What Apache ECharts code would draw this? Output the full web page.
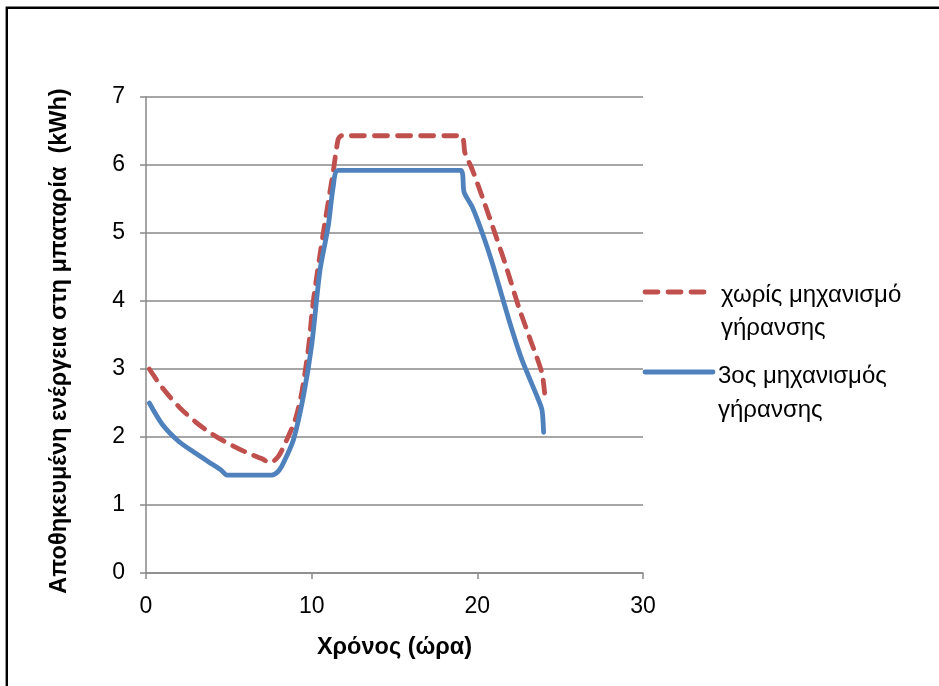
<!DOCTYPE html>
<html>
<head>
<meta charset="utf-8">
<script src="https://cdn.jsdelivr.net/npm/echarts@6/dist/echarts.min.js"></script>
<style>
  html, body { margin: 0; padding: 0; background: #ffffff; }
  #chart { width: 939px; height: 686px; }
</style>
</head>
<body>
<div id="chart"></div>
<script>
// Hours of the day and stored battery energy (kWh) for each strategy
const noAgingHours = [0.2, 1.0, 2.0, 3.0, 4.0, 5.0, 6.0, 7.0, 7.5, 8.0, 8.5, 9.0, 9.4, 9.8, 10.1, 10.7, 11.3, 11.6, 11.8, 19.0, 19.25, 19.7, 20.3, 21.1, 21.8, 22.5, 23.2, 23.9, 24.1];
const noAgingEnergy = [3.0, 2.72, 2.44, 2.22, 2.04, 1.90, 1.78, 1.68, 1.62, 1.72, 1.96, 2.25, 2.65, 3.3, 4.0, 5.0, 5.9, 6.38, 6.43, 6.43, 6.18, 5.93, 5.53, 4.97, 4.46, 3.91, 3.43, 2.94, 2.55];

const agingHours = [0.2, 1.0, 2.0, 3.0, 4.0, 4.5, 4.9, 7.6, 8.0, 8.3, 8.9, 9.5, 10.0, 10.5, 11.0, 11.3, 11.6, 19.0, 19.2, 19.7, 20.3, 20.9, 21.5, 22.1, 22.7, 23.6, 23.9, 24.0];
const agingEnergy = [2.5, 2.18, 1.93, 1.76, 1.6, 1.52, 1.44, 1.44, 1.5, 1.62, 1.96, 2.6, 3.35, 4.45, 5.1, 5.68, 5.92, 5.92, 5.6, 5.38, 5.0, 4.56, 4.06, 3.57, 3.13, 2.6, 2.4, 2.07];

const seriesNames = ['χωρίς μηχανισμό\nγήρανσης', '3ος μηχανισμός\nγήρανσης'];
const seriesColors = ['#C0504D', '#4F81BD'];

const xTicks = { min: 0, max: 30, step: 10 };
const yTicks = { min: 0, max: 7, step: 1 };

const xTitle = 'Χρόνος (ώρα)';
const yTitle = 'Αποθηκευμένη ενέργεια στη μπαταρία  (kWh)';

const FONT = '"Liberation Sans", Arial, sans-serif';

function pairs(xs, ys) {
  return xs.map((x, i) => [x, ys[i]]);
}

const chart = echarts.init(document.getElementById('chart'), null, { renderer: 'canvas' });

const legendX = 645, legendText = 721;
const legendRows = [292, 372];

chart.setOption({
  backgroundColor: '#ffffff',
  animation: false,
  grid: { left: 146, right: 296, top: 97, bottom: 113, containLabel: false },
  xAxis: {
    type: 'value',
    min: xTicks.min, max: xTicks.max, interval: xTicks.step,
    name: xTitle,
    nameLocation: 'middle',
    nameGap: 63,
    nameTextStyle: { fontFamily: FONT, fontWeight: 'bold', fontSize: 23.5, color: '#000' },
    axisLine: { lineStyle: { color: '#898989', width: 1.5 } },
    axisTick: { show: true, length: 6, lineStyle: { color: '#898989', width: 1.5 } },
    axisLabel: { fontFamily: FONT, fontSize: 23, color: '#000', margin: 22 },
    splitLine: { show: false }
  },
  yAxis: {
    type: 'value',
    min: yTicks.min, max: yTicks.max, interval: yTicks.step,
    axisLine: { show: true, lineStyle: { color: '#898989', width: 1.5 } },
    axisTick: { show: true, length: 6, lineStyle: { color: '#898989', width: 1.5 } },
    axisLabel: { fontFamily: FONT, fontSize: 23, color: '#000', margin: 21 },
    splitLine: { show: true, lineStyle: { color: '#898989', width: 1.5 } }
  },
  series: [
    {
      name: seriesNames[0],
      type: 'line',
      data: pairs(noAgingHours, noAgingEnergy),
      showSymbol: false,
      smooth: 0.25,
      lineStyle: { color: seriesColors[0], width: 4.8, type: [13, 10], cap: 'round', join: 'round' },
      z: 3
    },
    {
      name: seriesNames[1],
      type: 'line',
      data: pairs(agingHours, agingEnergy),
      showSymbol: false,
      smooth: 0.25,
      lineStyle: { color: seriesColors[1], width: 4.8, cap: 'round', join: 'round' },
      z: 4
    }
  ],
  graphic: [
    {
      type: 'rect',
      shape: { x: 6.8, y: 7.8, width: 960, height: 720 },
      style: { fill: 'none', stroke: '#000', lineWidth: 2.4 },
      silent: true
    },
    {
      // vertical axis title
      type: 'text',
      x: 60, y: 341,
      rotation: Math.PI / 2,
      style: {
        text: yTitle,
        font: 'bold 23.5px ' + FONT,
        fill: '#000',
        align: 'center',
        verticalAlign: 'middle'
      }
    },
    {
      type: 'line',
      shape: { x1: legendX, y1: legendRows[0], x2: 706, y2: legendRows[0] },
      style: { stroke: seriesColors[0], lineWidth: 4.8, lineDash: [13, 10], lineCap: 'round' }
    },
    {
      type: 'text',
      left: legendText, top: legendRows[0] - 13,
      style: { text: seriesNames[0], font: '24px ' + FONT, fill: '#000', lineHeight: 33 }
    },
    {
      type: 'line',
      shape: { x1: legendX, y1: legendRows[1], x2: 713, y2: legendRows[1] },
      style: { stroke: seriesColors[1], lineWidth: 4.8, lineCap: 'round' }
    },
    {
      type: 'text',
      left: 718, top: legendRows[1] - 13,
      style: { text: seriesNames[1], font: '24px ' + FONT, fill: '#000', lineHeight: 34 }
    }
  ]
});
</script>
</body>
</html>
